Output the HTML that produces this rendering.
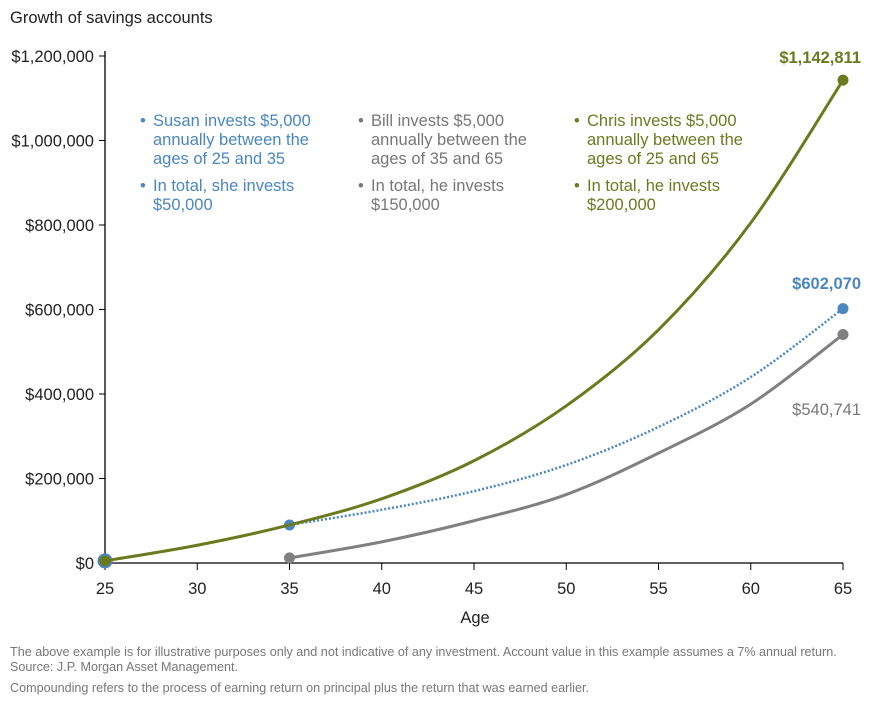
<!DOCTYPE html>
<html><head><meta charset="utf-8"><style>
body{margin:0;background:#fff;width:882px;height:702px;overflow:hidden;font-family:"Liberation Sans",sans-serif}
svg text{font-family:"Liberation Sans",sans-serif}
</style></head><body>
<svg id="c" width="882" height="702">
<text x="10" y="23" font-size="16.5" fill="#222">Growth of savings accounts</text>
<g id="axes"></g><g id="series"></g>
<g font-size="16.5">
<g fill="#4a86c0">
<text x="140" y="126">•</text><text x="153" y="126">Susan invests $5,000</text><text x="153" y="145">annually between the</text><text x="153" y="164">ages of 25 and 35</text>
<text x="140" y="191">•</text><text x="153" y="191">In total, she invests</text><text x="153" y="210">$50,000</text></g>
<g fill="#777">
<text x="358" y="126">•</text><text x="371" y="126">Bill invests $5,000</text><text x="371" y="145">annually between the</text><text x="371" y="164">ages of 35 and 65</text>
<text x="358" y="191">•</text><text x="371" y="191">In total, he invests</text><text x="371" y="210">$150,000</text></g>
<g fill="#6b7a1f">
<text x="574" y="126">•</text><text x="587" y="126">Chris invests $5,000</text><text x="587" y="145">annually between the</text><text x="587" y="164">ages of 25 and 65</text>
<text x="574" y="191">•</text><text x="587" y="191">In total, he invests</text><text x="587" y="210">$200,000</text></g>
</g>
<text x="475" y="623" font-size="16.5" text-anchor="middle" fill="#222">Age</text>
<g font-size="12.6" fill="#777">
<text x="10" y="656">The above example is for illustrative purposes only and not indicative of any investment. Account value in this example assumes a 7% annual return.</text>
<text x="10" y="671">Source: J.P. Morgan Asset Management.</text>
<text x="10" y="692">Compounding refers to the process of earning return on principal plus the return that was earned earlier.</text>
</g>
</svg>
<script>
const ages=[25,30,35,40,45,50,55,60,65];
const chris=[5000,42000,90000,152000,242000,372000,552000,805000,1142811];
const susanAges=[35,40,45,50,55,60,65];
const susan=[90000,126000,170000,232000,322000,440000,602070];
const billAges=[35,40,45,50,55,60,65];
const bill=[12000,50000,100000,162000,260000,376000,540741];
const yTicks=[0,200000,400000,600000,800000,1000000,1200000];
const xTicks=[25,30,35,40,45,50,55,60,65];
const X=a=>105+(a-25)*(738/40);
const Y=v=>563-v*(507/1200000);
const NS="http://www.w3.org/2000/svg";
function mk(p,t,at){const e=document.createElementNS(NS,t);for(const k in at)e.setAttribute(k,at[k]);p.appendChild(e);return e;}
const ax=document.getElementById('axes'),se=document.getElementById('series');
const yl=mk(ax,'line',{x1:105,y1:Y(1200000)-5,x2:105,y2:563,stroke:'#000','stroke-width':1.3});


const xl=mk(ax,'line',{x1:105,y1:563,x2:843,y2:563,stroke:'#000','stroke-width':1.3});


yTicks.forEach(v=>{mk(ax,'line',{x1:99,x2:105,y1:Y(v),y2:Y(v),stroke:'#000'});
const t=mk(ax,'text',{x:94,y:Y(v)+6,'text-anchor':'end','font-size':16.5,fill:'#222'});t.textContent='$'+v.toLocaleString('en-US');

});
xTicks.forEach(a=>{mk(ax,'line',{x1:X(a),x2:X(a),y1:563,y2:570,stroke:'#000'});
const t=mk(ax,'text',{x:X(a),y:594,'text-anchor':'middle','font-size':16.5,fill:'#222'});t.textContent=a;

});
function path(xs,vs){const p=xs.map((a,i)=>[X(a),Y(vs[i])]);let d='M'+p[0];
for(let i=0;i<p.length-1;i++){const p0=p[i-1]||p[i],p1=p[i],p2=p[i+1],p3=p[i+2]||p2;
d+=` C${p1[0]+(p2[0]-p0[0])/6},${p1[1]+(p2[1]-p0[1])/6} ${p2[0]-(p3[0]-p1[0])/6},${p2[1]-(p3[1]-p1[1])/6} ${p2[0]},${p2[1]}`;}return d;}
function series(name,xs,vs,col,dash,w){const g=mk(se,'path',{d:path(xs,vs),fill:'none',stroke:col,'stroke-width':w,'stroke-dasharray':dash||''});


[0,xs.length-1].forEach(i=>{const c=mk(se,'circle',{cx:X(xs[i]),cy:Y(vs[i]),r:5.5,fill:col});

});}
series('bill',billAges,bill,'#808080','',3);
mk(se,'circle',{cx:X(25),cy:Y(5000),r:7.5,fill:'#4a86c0'});
series('susan',susanAges,susan,'#4a86c0','2,2',2.5);
series('chris',ages,chris,'#6b7a1f','',3);
function lab(txt,x,y,col,n){const t=mk(se,'text',{x:x,y:y,'text-anchor':'end','font-size':16.5,fill:col,'font-weight':n!=='bill'?'bold':'normal'});t.textContent=txt;

}
lab('$'+chris[chris.length-1].toLocaleString('en-US'),861,63,'#6b7a1f','chris');
lab('$'+susan[susan.length-1].toLocaleString('en-US'),861,289,'#4a86c0','susan');
lab('$'+bill[bill.length-1].toLocaleString('en-US'),861,415,'#777','bill');
</script>
</body></html>
